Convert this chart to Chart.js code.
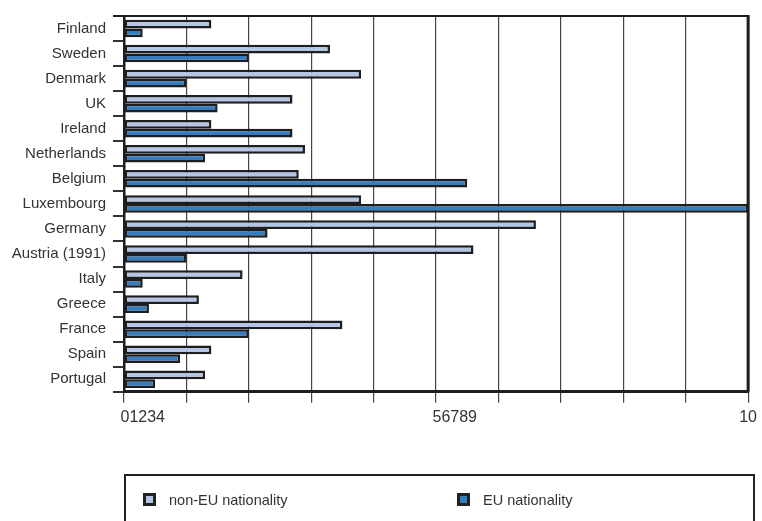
<!DOCTYPE html>
<html>
<head>
<meta charset="utf-8">
<script src="https://cdn.jsdelivr.net/npm/chart.js@4.4.1/dist/chart.umd.min.js"></script>
<style>
  html, body { margin: 0; padding: 0; background: #fff; overflow: hidden; }
  #wrap { position: relative; width: 762px; height: 521px; }
  #chart { position: absolute; left: 0; top: 0; }
  #legend {
    position: absolute; left: 124px; top: 474px; width: 631px; height: 70px;
    border: 2px solid #222; box-sizing: border-box;
    font-family: "Liberation Sans", Arial, sans-serif;
    font-size: 14.5px; color: #333;
  }
  .item { position: absolute; top: 14px; height: 20px; line-height: 20px; white-space: nowrap; }
  .swatch {
    display: inline-block; width: 13px; height: 13px; box-sizing: border-box;
    border: 3px solid #222; vertical-align: middle; margin-right: 13px; margin-top: -3px;
  }
</style>
</head>
<body>
<div id="wrap">
  <canvas id="chart" width="762" height="521"></canvas>
  <div id="legend"></div>
</div>
<script>
// Countries, top to bottom
const countries = ["Finland", "Sweden", "Denmark", "UK", "Ireland", "Netherlands", "Belgium",
  "Luxembourg", "Germany", "Austria (1991)", "Italy", "Greece", "France", "Spain", "Portugal"];

// Share of resident population by nationality group
const nonEU = [1.4, 3.3, 3.8, 2.7, 1.4, 2.9, 2.8, 3.8, 6.6, 5.6, 1.9, 1.2, 3.5, 1.4, 1.3];
const eu    = [0.3, 2.0, 1.0, 1.5, 2.7, 1.3, 5.5, 10, 2.3, 1.0, 0.3, 0.4, 2.0, 0.9, 0.5];

const seriesNames = ["non-EU nationality", "EU nationality"];

// Axis labels along the value scale and the values they sit at
const axisLabels = ["01234", "56789", "10"];
const axisLabelValues = [0.3, 5.3, 10];

const FONT = '"Liberation Sans", Arial, sans-serif';
const LIGHT = "#b4c6e5";
const BLUE = "#347ebf";
const INK = "#1e1e1e";

// Frame along the top and right edges of the plot area
const framePlugin = {
  id: "frame",
  afterDraw(chart) {
    const a = chart.chartArea, ctx = chart.ctx;
    ctx.save();
    ctx.strokeStyle = INK;
    ctx.lineWidth = 2;
    ctx.beginPath();
    ctx.moveTo(a.left - 11, a.top);
    ctx.lineTo(a.right, a.top);
    ctx.stroke();
    ctx.lineWidth = 3;
    ctx.beginPath();
    ctx.moveTo(a.right, a.top - 1);
    ctx.lineTo(a.right, a.bottom);
    ctx.stroke();
    ctx.restore();
  }
};

const chart = new Chart(document.getElementById("chart"), {
  type: "bar",
  data: {
    labels: countries,
    datasets: [
      { label: seriesNames[0], data: nonEU, backgroundColor: LIGHT, borderColor: INK, borderWidth: 2.5, borderSkipped: false },
      { label: seriesNames[1], data: eu, backgroundColor: BLUE, borderColor: INK, borderWidth: 2.5, borderSkipped: false }
    ]
  },
  options: {
    indexAxis: "y",
    responsive: false,
    animation: false,
    categoryPercentage: 0.7,
    barPercentage: 1.0,
    layout: { padding: { top: 16, right: 10, left: 0, bottom: 89 } },
    plugins: { legend: { display: false }, tooltip: { enabled: false } },
    scales: {
      y: {
        type: "category",
        afterFit(s) { s.width = 124; },
        grid: { drawOnChartArea: false, drawTicks: true, tickLength: 11, color: "#333", lineWidth: 2 },
        border: { display: true, color: INK, width: 2.5 },
        ticks: { padding: 7, color: "#333", font: { family: FONT, size: 15 } }
      },
      x: {
        type: "linear",
        position: "bottom",
        weight: 0,
        min: 0, max: 10,
        afterFit(s) { s.height = 11; },
        grid: { color: "#444", lineWidth: 1.2, tickLength: 11, drawTicks: true },
        border: { display: true, color: INK, width: 3 },
        ticks: { display: false, stepSize: 1 }
      },
      x2: {
        type: "linear",
        position: "bottom",
        weight: 1,
        min: 0, max: 10,
        afterBuildTicks(s) { s.ticks = axisLabelValues.map(v => ({ value: v })); },
        grid: { display: false, drawTicks: false },
        border: { display: false },
        ticks: {
          autoSkip: false, maxRotation: 0, padding: 5, color: "#333",
          font: { family: FONT, size: 16 },
          callback: (v, i) => axisLabels[i]
        }
      }
    }
  },
  plugins: [framePlugin]
});

// Legend box built from the chart's datasets
const legend = document.getElementById("legend");
const itemLefts = [17, 331];
chart.data.datasets.forEach((ds, i) => {
  const item = document.createElement("div");
  item.className = "item";
  item.style.left = itemLefts[i] + "px";
  const sw = document.createElement("span");
  sw.className = "swatch";
  sw.style.background = ds.backgroundColor;
  item.appendChild(sw);
  item.appendChild(document.createTextNode(ds.label));
  legend.appendChild(item);
});
</script>
</body>
</html>
